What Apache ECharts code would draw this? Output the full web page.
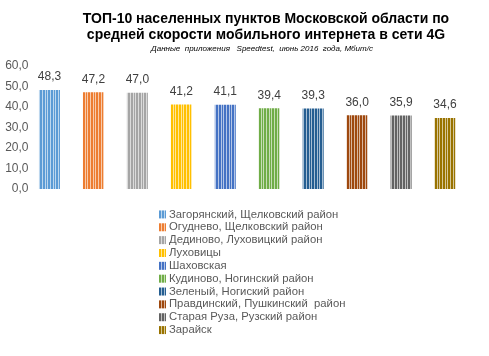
<!DOCTYPE html>
<html><head><meta charset="utf-8">
<script src="https://cdn.jsdelivr.net/npm/echarts@6/dist/echarts.min.js"></script>
<style>html,body{margin:0;padding:0;background:#fff}#c{width:489px;height:356px}</style>
</head><body><div id="c"></div>
<script>
const categories = ["Загорянский, Щелковский район","Огуднево, Щелковский район","Дединово, Луховицкий район","Луховицы","Шаховская","Кудиново, Ногинский район","Зеленый, Ногиский район","Правдинский, Пушкинский  район","Старая Руза, Рузский район","Зарайск"];
const values = [48.3,47.2,47.0,41.2,41.1,39.4,39.3,36.0,35.9,34.6];
const colors = ["#5B9BD5","#ED7D31","#A5A5A5","#FFC000","#4472C4","#70AD47","#255E91","#9E480E","#636363","#997300"];
const yTicks = [0,10,20,30,40,50,60];

function stripe(col){
  const cv = document.createElement('canvas');
  cv.width = 8; cv.height = 8;
  const g = cv.getContext('2d');
  g.fillStyle = col; g.fillRect(0,0,8,8);
  g.fillStyle = 'rgba(255,255,255,0.6)';
  [2,5,7].forEach(x=>g.fillRect(x,0,1,8));
  return {image: cv, repeat: 'repeat'};
}
const fmt = v => v.toFixed(1).replace('.', ',');

const series = categories.map((name,i)=>({
  name, type:'bar', stack:'s', barWidth:21,
  data: values.map((v,j)=> j===i ? v : null),
  itemStyle:{color: stripe(colors[i])},
  label:{show:true, position:'top', distance:7, color:'#404040', fontSize:12, fontFamily:'Liberation Sans, Arial',
    formatter: p => fmt(p.value)},
  emphasis:{disabled:true}
}));

const chart = echarts.init(document.getElementById('c'));
chart.setOption({
  animation:false,
  title:[
    {text:'ТОП-10 населенных пунктов Московской области по\nсредней скорости мобильного интернета в сети 4G', left:261, top:6, textAlign:'center',
     textStyle:{fontFamily:'Liberation Sans, Arial', fontWeight:'bold', fontSize:14, lineHeight:16, color:'#000'}},
    {text:'Данные  приложения   Speedtest,  июнь 2016  года, Мбит/с', left:257, top:40, textAlign:'center',
     textStyle:{fontFamily:'Liberation Sans, Arial', fontStyle:'italic', fontWeight:'normal', fontSize:8, color:'#000'}}
  ],
  grid:{left:27.5, right:22, top:66, bottom:167, containLabel:false},
  xAxis:{type:'category', data:categories, axisLine:{show:false}, axisTick:{show:false}, axisLabel:{show:false}, splitLine:{show:false}},
  yAxis:{type:'value', min:0, max:60, interval:10, axisLine:{show:false}, axisTick:{show:false}, splitLine:{show:false},
    axisLabel:{color:'#595959', fontSize:12, fontFamily:'Liberation Sans, Arial', margin:-1, formatter: v => fmt(v)}},
  legend:{orient:'vertical', left:154, top:203, itemWidth:7, itemHeight:8, itemGap:0, icon:'rect',
    textStyle:{color:'#595959', fontSize:11.3, fontFamily:'Liberation Sans, Arial', lineHeight:12.85, padding:[0,0,0,-2]},
    data: categories},
  series
});
</script></body></html>
